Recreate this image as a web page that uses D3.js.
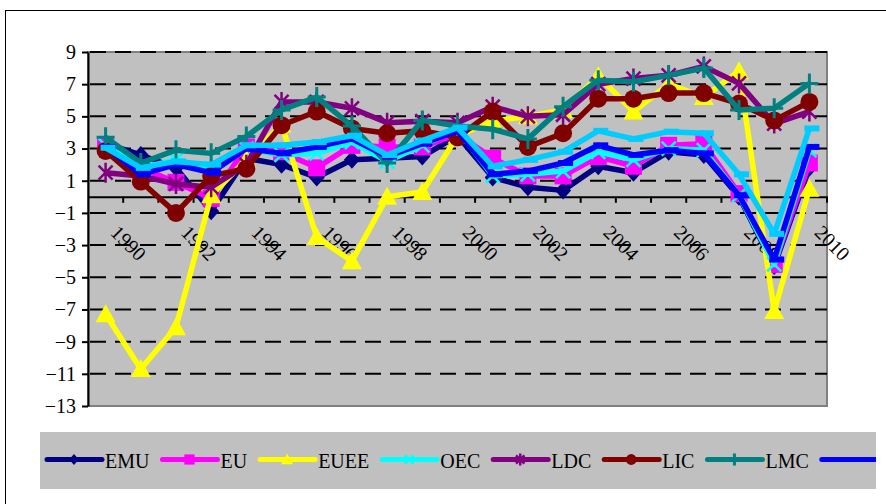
<!DOCTYPE html>
<html>
<head>
<meta charset="utf-8">
<script src="https://cdn.jsdelivr.net/npm/d3@7/dist/d3.min.js"></script>
<style>
  body { margin: 0; background: #fff; }
  svg { display: block; font-family: "Liberation Serif", "Times New Roman", serif; }
</style>
</head>
<body>
<svg id="chart"></svg>
<script>
const years = [1990, 1991, 1992, 1993, 1994, 1995, 1996, 1997, 1998, 1999, 2000,
               2001, 2002, 2003, 2004, 2005, 2006, 2007, 2008, 2009, 2010];
const yearLabels = ['1990', '1992', '1994', '1996', '1998', '2000', '2002', '2004', '2006', '2008', '2010'];
const yTicks = [-13, -11, -9, -7, -5, -3, -1, 1, 3, 5, 7, 9];

const emu  = [3.3, 2.6, 1.8, -0.9, 2.4, 2.0, 1.2, 2.3, 2.4, 2.5, 3.8, 1.2, 0.6, 0.4, 1.9, 1.5, 2.8, 2.6, 0.0, -4.3, 1.8];
const eu   = [3.2, 1.8, 0.9, -0.1, 3.1, 2.8, 1.8, 3.2, 3.1, 3.1, 3.9, 2.4, 1.3, 1.3, 2.5, 1.9, 3.2, 3.3, 0.2, -4.2, 2.1];
const euee = [-7.3, -10.7, -8.1, 0.1, 2.3, 4.5, -2.5, -4.0, 0.0, 0.3, 3.8, 4.7, 5.0, 5.4, 7.5, 5.3, 7.0, 6.2, 7.8, -7.1, 0.5];
const oec  = [3.2, 1.8, 2.3, 1.8, 3.0, 2.6, 2.7, 3.4, 2.2, 3.2, 4.2, 1.3, 1.4, 1.6, 2.8, 2.3, 3.0, 2.9, 0.1, -4.2, 2.9];
const ldc  = [1.5, 1.3, 0.8, 0.6, 2.0, 5.9, 5.9, 5.5, 4.6, 4.7, 4.6, 5.6, 5.0, 5.1, 7.0, 7.35, 7.55, 8.1, 7.05, 4.55, 5.3];
const lic  = [2.85, 0.95, -1.0, 1.3, 1.75, 4.45, 5.3, 4.25, 3.95, 4.1, 3.7, 5.3, 3.1, 3.95, 6.1, 6.1, 6.45, 6.45, 5.8, 4.75, 5.9];
const lmc  = [3.7, 2.1, 2.9, 2.7, 3.75, 5.4, 6.2, 4.4, 2.1, 4.75, 4.4, 4.2, 3.6, 5.6, 7.25, 7.15, 7.55, 8.0, 5.4, 5.5, 7.05];
const umc  = [3.1, 1.4, 2.0, 1.5, 3.0, 2.7, 3.1, 3.6, 2.5, 3.3, 4.1, 1.4, 1.6, 2.1, 3.2, 2.6, 2.9, 2.7, 0.1, -3.9, 3.1];
const wld  = [3.05, 1.8, 2.2, 2.0, 3.2, 3.2, 3.4, 3.8, 2.6, 3.5, 4.3, 1.9, 2.3, 2.8, 4.1, 3.6, 4.05, 3.95, 1.4, -2.3, 4.25];

const seriesNames = ['EMU', 'EU', 'EUEE', 'OEC', 'LDC', 'LIC', 'LMC', 'UMC', 'WLD'];
const seriesValues = [emu, eu, euee, oec, ldc, lic, lmc, umc, wld];
const seriesColors = ['#000080', '#ff00ff', '#ffff00', '#00ffff', '#800080', '#800000', '#008080', '#0000ff', '#00ccff'];
const seriesMarkers = ['diamond', 'square', 'triangle', 'x', 'star', 'circle', 'plus', 'dash', 'dash'];

const width = 886, height = 504;
const svg = d3.select('#chart').attr('width', width).attr('height', height);

// outer chart frame (runs off the right and bottom of the picture)
svg.append('rect')
    .attr('x', 5.5).attr('y', 10.5)
    .attr('width', 1000).attr('height', 600)
    .attr('fill', '#fff').attr('stroke', '#000').attr('stroke-width', 1);

const plot = { left: 88, right: 827, top: 52, bottom: 406 };

const x = d3.scaleBand().domain(years).range([plot.left, plot.right]);
const y = d3.scaleLinear().domain([-13, 9]).range([plot.bottom, plot.top]);
const cx = d => x(d) + x.bandwidth() / 2;

// plot area
svg.append('rect')
    .attr('x', plot.left).attr('y', plot.top)
    .attr('width', plot.right - plot.left).attr('height', plot.bottom - plot.top)
    .attr('fill', '#c0c0c0').attr('stroke', '#808080').attr('stroke-width', 2);

// dashed gridlines
svg.append('g')
    .selectAll('line')
    .data(yTicks.filter(v => v > -13))
    .join('line')
    .attr('x1', plot.left + 2).attr('x2', plot.right)
    .attr('y1', d => y(d)).attr('y2', d => y(d))
    .attr('stroke', '#000').attr('stroke-width', 2)
    .attr('stroke-dasharray', '16,9');

// y axis
const yAxis = svg.append('g')
    .attr('transform', `translate(${plot.left},0)`)
    .call(d3.axisLeft(y).tickValues(yTicks).tickSize(6).tickPadding(6).tickSizeOuter(0));
yAxis.attr('font-family', null);
yAxis.select('.domain').attr('stroke', '#000').attr('stroke-width', 2);
yAxis.selectAll('.tick line').attr('stroke', '#000').attr('stroke-width', 2);
yAxis.selectAll('.tick text')
    .attr('font-family', '"Liberation Serif", "Times New Roman", serif')
    .attr('font-size', 20).attr('fill', '#000');

// x axis at zero
const x0 = y(0);
const xAxis = svg.append('g')
    .attr('transform', `translate(0,${x0})`)
    .call(d3.axisBottom(x).tickValues([]).tickSizeOuter(0));
xAxis.select('.domain').attr('stroke', '#000').attr('stroke-width', 2);
svg.append('g')
    .selectAll('line')
    .data(years.slice(1))
    .join('line')
    .attr('x1', d => x(d)).attr('x2', d => x(d))
    .attr('y1', x0).attr('y2', x0 + 6)
    .attr('stroke', '#000').attr('stroke-width', 2);
svg.append('line')
    .attr('x1', plot.right).attr('x2', plot.right)
    .attr('y1', x0).attr('y2', x0 + 6)
    .attr('stroke', '#000').attr('stroke-width', 2);

svg.append('g')
    .selectAll('text')
    .data(yearLabels)
    .join('text')
    .attr('transform', d => `translate(${cx(+d) + 4},${x0 + 37}) rotate(45)`)
    .attr('font-size', 20)
    .attr('fill', '#000')
    .text(d => d);

// markers
function marker(g, type, color, s) {
    if (type === 'diamond') {
        g.append('path').attr('d', `M0,${-9 * s}L${8 * s},0L0,${9 * s}L${-8 * s},0Z`).attr('fill', color);
    } else if (type === 'square') {
        g.append('rect').attr('x', -8.5 * s).attr('y', -8.5 * s).attr('width', 17 * s).attr('height', 17 * s).attr('fill', color);
    } else if (type === 'triangle') {
        g.append('path').attr('d', `M0,${-10 * s}L${10 * s},${8 * s}L${-10 * s},${8 * s}Z`).attr('fill', color);
    } else if (type === 'x') {
        g.append('path').attr('d', `M${-7 * s},${-7 * s}L${7 * s},${7 * s}M${7 * s},${-7 * s}L${-7 * s},${7 * s}`)
            .attr('stroke', color).attr('stroke-width', 2.5);
    } else if (type === 'star') {
        g.append('path').attr('d', `M${-7 * s},${-7 * s}L${7 * s},${7 * s}M${7 * s},${-7 * s}L${-7 * s},${7 * s}M0,${-10 * s}L0,${10 * s}`)
            .attr('stroke', color).attr('stroke-width', 2.5);
    } else if (type === 'circle') {
        g.append('circle').attr('r', 9 * s).attr('fill', color);
    } else if (type === 'plus') {
        g.append('path').attr('d', `M${-9 * s},0L${9 * s},0M0,${-10 * s}L0,${10 * s}`)
            .attr('stroke', color).attr('stroke-width', 3);
    } else if (type === 'dash') {
        g.append('rect').attr('x', -5 * s).attr('y', -3 * s).attr('width', 15 * s).attr('height', 6 * s).attr('fill', color);
    }
}

const line = d3.line().x((d, i) => cx(years[i])).y(d => y(d));

seriesValues.forEach((vals, k) => {
    const g = svg.append('g');
    g.append('path')
        .datum(vals)
        .attr('d', line)
        .attr('fill', 'none')
        .attr('stroke', seriesColors[k])
        .attr('stroke-width', 5.5)
        .attr('stroke-linejoin', 'round');
    vals.forEach((v, i) => {
        const m = g.append('g').attr('transform', `translate(${cx(years[i])},${y(v)})`);
        marker(m, seriesMarkers[k], seriesColors[k], 1);
    });
});

// legend (cut off at the right like the original)
const legendBox = { left: 40, top: 432, right: 876, bottom: 489 };
svg.append('clipPath').attr('id', 'legclip')
    .append('rect')
    .attr('x', legendBox.left).attr('y', legendBox.top)
    .attr('width', legendBox.right - legendBox.left).attr('height', legendBox.bottom - legendBox.top);
const legend = svg.append('g').attr('clip-path', 'url(#legclip)');
legend.append('rect')
    .attr('x', legendBox.left).attr('y', legendBox.top)
    .attr('width', legendBox.right - legendBox.left).attr('height', legendBox.bottom - legendBox.top)
    .attr('fill', '#c0c0c0');

let lx = 45;
const ly = 459.5;
seriesNames.forEach((name, k) => {
    if (lx >= legendBox.right) return;
    const item = legend.append('g');
    item.append('line')
        .attr('x1', lx + 2).attr('x2', lx + 57)
        .attr('y1', ly).attr('y2', ly)
        .attr('stroke', seriesColors[k]).attr('stroke-width', 5)
        .attr('stroke-linecap', 'round');
    const m = item.append('g').attr('transform', `translate(${lx + 29},${ly})`);
    marker(m, seriesMarkers[k], seriesColors[k], 0.6);
    if (lx + 60 >= legendBox.right) { lx = legendBox.right; return; }
    const t = item.append('text')
        .attr('x', lx + 60).attr('y', ly + 8.5)
        .attr('font-size', 20).attr('fill', '#000')
        .text(name);
    lx = lx + 60 + t.node().getComputedTextLength() + 11;
});
</script>
</body>
</html>
